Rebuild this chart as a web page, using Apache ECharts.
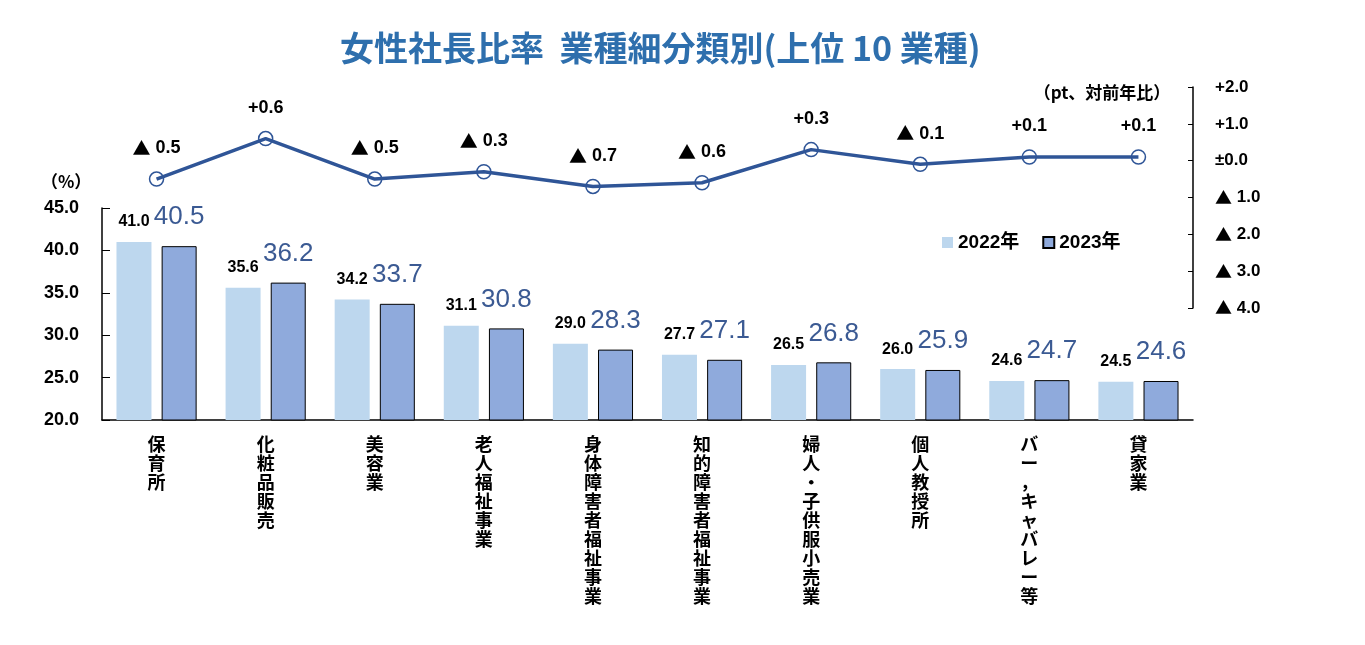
<!DOCTYPE html>
<html>
<head>
<meta charset="utf-8">
<script src="https://cdn.jsdelivr.net/npm/echarts@6/dist/echarts.min.js"></script>
<style>
html,body{margin:0;padding:0;background:#fff;}
#chart{width:1365px;height:645px;}
</style>
</head>
<body>
<div id="chart"></div>
<script>
const categories = ['保育所','化粧品販売','美容業','老人福祉事業','身体障害者福祉事業','知的障害者福祉事業','婦人・子供服小売業','個人教授所','バー，キャバレー等','貸家業'];
const values2022 = [41.0, 35.6, 34.2, 31.1, 29.0, 27.7, 26.5, 26.0, 24.6, 24.5];
const values2023 = [40.5, 36.2, 33.7, 30.8, 28.3, 27.1, 26.8, 25.9, 24.7, 24.6];
const changeValues = [-0.5, 0.6, -0.5, -0.3, -0.7, -0.6, 0.3, -0.1, 0.1, 0.1];
const seriesNames = ['2022年', '2023年'];

const FONT = "'Liberation Sans','Noto Sans CJK JP',sans-serif";
const CJK = "'Noto Sans CJK JP','Liberation Sans',sans-serif";

function fmtChange(v){
  if (v > 0) return '+' + v.toFixed(1);
  if (v === 0) return '±0.0';
  return '{t|▲} ' + Math.abs(v).toFixed(1);
}

const chart = echarts.init(document.getElementById('chart'));
const option = {
  animation: false,
  backgroundColor: '#ffffff',
  textStyle: { fontFamily: FONT },
  title: {
    text: '女性社長比率  業種細分類別(上位 10 業種)',
    left: 335,
    top: 26,
    textStyle: { fontSize: 34, fontWeight: 'bold', color: '#2e6fad', fontFamily: CJK }
  },
  legend: {
    data: seriesNames,
    left: 937,
    top: 228,
    icon: 'rect',
    itemWidth: 11,
    itemHeight: 11,
    itemGap: 23,
    textStyle: { fontSize: 19, fontWeight: 'bold', color: '#000', fontFamily: FONT }
  },
  grid: [
    { left: 102, right: 172, top: 208, bottom: 225 },
    { left: 102, right: 172, top: 87, height: 221 }
  ],
  xAxis: [
    {
      type: 'category', gridIndex: 0, data: categories,
      axisLine: { lineStyle: { color: '#000', width: 1.5 } },
      axisTick: { show: false },
      axisLabel: {
        interval: 0, margin: 15, fontSize: 18, lineHeight: 19, fontWeight: 'bold',
        color: '#000', fontFamily: CJK, verticalAlign: 'top',
        formatter: v => v.split('').join('\n')
      }
    },
    { type: 'category', gridIndex: 1, data: categories, show: false }
  ],
  yAxis: [
    {
      type: 'value', gridIndex: 0, min: 20, max: 45, interval: 5,
      axisLine: { show: true, lineStyle: { color: '#000', width: 1.5 } },
      axisTick: { show: true, inside: true, length: 8, lineStyle: { color: '#000', width: 1 } },
      splitLine: { show: false },
      axisLabel: { formatter: v => v.toFixed(1), fontSize: 18, fontWeight: 'bold', color: '#000', margin: 23 }
    },
    {
      type: 'value', gridIndex: 1, position: 'right', min: -4, max: 2, interval: 1,
      axisLine: { show: true, lineStyle: { color: '#000', width: 1.5 } },
      axisTick: { show: true, inside: true, length: 5, lineStyle: { color: '#000', width: 1 } },
      splitLine: { show: false },
      axisLabel: {
        formatter: fmtChange, align: 'left', margin: 22, fontSize: 17, fontWeight: 'bold', color: '#000',
        rich: { t: { fontFamily: CJK, fontSize: 17, fontWeight: 'bold', color: '#000' } }
      }
    }
  ],
  series: [
    {
      name: seriesNames[0], type: 'bar', xAxisIndex: 0, yAxisIndex: 0,
      data: values2022, barWidth: 35, barGap: '29%',
      itemStyle: { color: '#bdd7ee' },
      label: { show: true, position: 'top', distance: 12, fontSize: 16, fontWeight: 'bold', color: '#000',
        formatter: p => p.value.toFixed(1) }
    },
    {
      name: seriesNames[1], type: 'bar', xAxisIndex: 0, yAxisIndex: 0,
      data: values2023, barWidth: 35,
      itemStyle: { color: '#8faadc', borderColor: '#000', borderWidth: 1 },
      label: { show: true, position: 'top', distance: 16, fontSize: 26, fontWeight: 'normal', color: '#3b5a93',
        formatter: p => p.value.toFixed(1) }
    },
    {
      name: '対前年比', type: 'line', xAxisIndex: 1, yAxisIndex: 1,
      data: changeValues,
      symbol: 'circle', symbolSize: 14,
      lineStyle: { color: '#2f5597', width: 3.5 },
      itemStyle: { color: 'rgba(255,255,255,0)', borderColor: '#2f5597', borderWidth: 1.5 },
      label: {
        show: true, position: 'top', distance: 14, fontSize: 18, fontWeight: 'bold', color: '#000',
        formatter: p => fmtChange(p.value),
        rich: { t: { fontFamily: CJK, fontSize: 18, fontWeight: 'bold', color: '#000' } }
      },
      z: 5
    }
  ],
  graphic: [
    { type: 'text', left: 41, top: 173, style: { text: '（%）', font: "bold 17px " + CJK, fill: '#000' } },
    { type: 'text', x: 1102, y: 93, style: { text: '（pt、対前年比）', font: "bold 17px " + CJK, fill: '#000', textAlign: 'center', textVerticalAlign: 'middle' } }
  ]
};
chart.setOption(option);
</script>
</body>
</html>
